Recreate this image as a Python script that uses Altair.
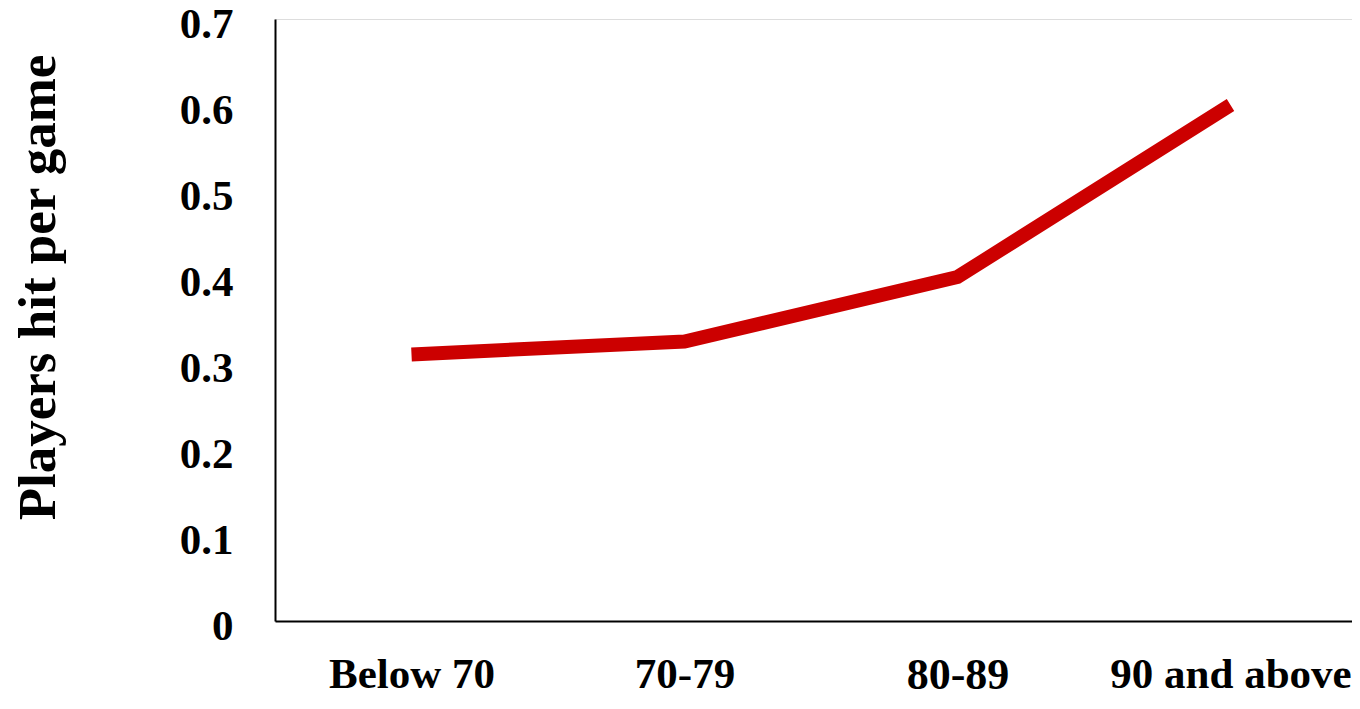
import altair as alt
import pandas as pd

categories = ["Below 70", "70-79", "80-89", "90 and above"]
values = [0.31, 0.325, 0.40, 0.60]
y_ticks = [0, 0.1, 0.2, 0.3, 0.4, 0.5, 0.6, 0.7]

df = pd.DataFrame({"group": categories, "hits": values})

FONT = "Liberation Serif"

chart = alt.Chart(df).mark_line(
    color="#CC0000", strokeWidth=14, strokeCap="butt", strokeJoin="miter"
).encode(
    x=alt.X(
        "group:N",
        sort=categories,
        scale=alt.Scale(type="point", padding=0.5, range=[0, 1092]),
        axis=alt.Axis(
            title=None,
            labelAngle=0,
            labelFont=FONT,
            labelFontWeight="bold",
            labelFontSize={"condition": {"test": "datum.value === '80-89'", "value": 44}, "value": 43},
            labelColor="black",
            labelPadding=32,
            labelLimit=0,
            ticks=False,
            tickSize=0,
            grid=False,
            domainColor="black",
            domainWidth=2,
        ),
    ),
    y=alt.Y(
        "hits:Q",
        scale=alt.Scale(domain=[0, 0.7], nice=False, zero=True),
        axis=alt.Axis(
            values=y_ticks,
            format="~g",
            title="Players hit per game",
            titleFont=FONT,
            titleFontWeight="bold",
            titleFontSize=53,
            titleColor="black",
            titleAngle=-90,
            titleBaseline="middle",
            titleAlign="center",
            titleX=-237,
            titleY=268,
            titleLimit=0,
            labelFont=FONT,
            labelFontWeight="bold",
            labelFontSize=43,
            labelColor="black",
            labelPadding=42,
            labelOffset=5,
            ticks=False,
            tickSize=0,
            grid=False,
            domainColor="black",
            domainWidth=2,
        ),
    ),
).properties(
    width=1077,
    height=602,
    autosize=alt.AutoSizeParams(type="none"),
    padding={"left": 267, "top": 11, "right": 0, "bottom": 76},
).configure_view(stroke=None).configure(background="white")

chart.save("out.html", embed_options={"renderer": "svg", "actions": False})
